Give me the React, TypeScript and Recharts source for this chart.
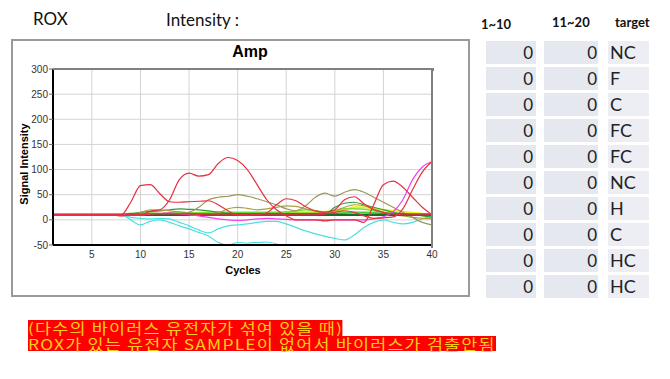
import React from 'react';
import { LineChart, Line, XAxis, YAxis, CartesianGrid } from 'recharts';

const CYCLES = [1, 2, 3, 4, 5, 6, 7, 8, 9, 10, 11, 12, 13, 14, 15, 16, 17, 18, 19, 20, 21, 22, 23, 24, 25, 26, 27, 28, 29, 30, 31, 32, 33, 34, 35, 36, 37, 38, 39, 40];
const X_TICKS = [5, 10, 15, 20, 25, 30, 35, 40];
const Y_TICKS = [-50, 0, 50, 100, 150, 200, 250, 300];

// one entry per well curve, values per cycle 1..40
const redA = [10, 10, 10, 10, 10, 10, 10, 10, 35, 68, 70, 52, 36, 35, 36, 37, 38, 30, 18, 10, 10, 10, 14, 30, 42, 38, 26, 18, 15, 20, 40, 46, 32, 20, 15, 12, 10, 10, 10, 10];
const redB = [10, 10, 10, 10, 10, 10, 10, 10, 10, 10, 17, 20, 40, 80, 93, 87, 90, 112, 124, 118, 100, 70, 40, 20, 8, 0, 0, 0, -2, 0, 0, 0, -5, 30, 70, 77, 65, 45, 25, 10];
const redC = [10, 10, 10, 10, 10, 10, 10, 8, 10, 10, 12, 12, 12, 12, 12, 11, 10, 10, 10, 10, 10, 10, 10, 10, 10, 10, 10, 10, 12, 15, 18, 15, 8, 3, 4, 6, 22, 60, 95, 116];
const magenta = [10, 10, 10, 10, 10, 10, 10, 10, 10, 10, 12, 13, 14, 12, 10, 8, 5, 2, 0, -1, 0, 2, 3, 2, 1, 0, 0, 0, 0, 0, 0, 0, 0, 2, 6, 16, 40, 80, 105, 116];
const oliveA = [10, 10, 10, 10, 10, 10, 10, 10, 10, 10, 10, 10, 10, 12, 15, 25, 40, 45, 47, 50, 47, 42, 36, 30, 22, 18, 28, 45, 53, 47, 55, 60, 55, 45, 35, 25, 15, 5, -5, -10];
const oliveB = [10, 10, 10, 10, 10, 10, 10, 10, 10, 15, 20, 20, 18, 16, 14, 12, 12, 14, 22, 25, 23, 20, 22, 25, 28, 27, 22, 18, 15, 18, 25, 30, 28, 22, 15, 10, 8, 5, 3, 2];
const cyanA = [10, 10, 10, 10, 10, 10, 10, 10, 0, -10, -3, 0, -5, -12, -18, -25, -32, -45, -50, -45, -46, -45, -44, -48, -56, -62, -66, -70, -72, -74, -75, -76, -76, -76, -76, -76, -76, -76, -76, -76];
const cyanB = [10, 10, 10, 10, 10, 10, 10, 10, 5, 3, 2, 3, 2, -5, -12, -20, -26, -18, -12, -10, -8, -5, -3, -3, -8, -15, -22, -28, -33, -37, -40, -30, -15, -5, 0, -5, -8, -5, 2, 8];
const green = [10, 10, 10, 10, 10, 10, 10, 10, 12, 15, 17, 18, 20, 22, 21, 20, 18, 15, 13, 12, 12, 12, 12, 12, 12, 12, 12, 12, 12, 25, 33, 35, 30, 25, 20, 15, 12, 10, 8, 5];
const lime = [10, 10, 10, 10, 10, 10, 10, 10, 13, 12, 14, 12, 14, 15, 14, 14, 15, 16, 15, 15, 15, 15, 15, 15, 16, 18, 20, 18, 16, 18, 22, 22, 21, 18, 15, 13, 12, 11, 10, 10];
const yellow = [10, 10, 10, 10, 10, 10, 10, 10, 10, 11, 12, 12, 13, 13, 12, 12, 12, 12, 13, 13, 13, 13, 13, 14, 14, 15, 15, 15, 16, 18, 20, 25, 25, 22, 20, 18, 16, 14, 12, 10];
const lightGreen = [10, 10, 10, 10, 10, 10, 10, 10, 11, 10, 9, 10, 12, 12, 12, 12, 12, 13, 13, 13, 13, 13, 13, 13, 13, 13, 13, 13, 13, 13, 14, 15, 15, 14, 13, 12, 12, 11, 11, 11];
const darkGreen = [10, 10, 10, 10, 10, 10, 10, 10, 10, 10, 10, 10, 10, 10, 10, 10, 10, 10, 10, 10, 10, 10, 10, 10, 10, 10, 10, 10, 10, 10, 10, 10, 10, 10, 10, 10, 10, 10, 10, 10];

const SERIES = [
  { key: 'cyanA', values: cyanA, color: '#4ee0e0', width: 1.2 },
  { key: 'cyanB', values: cyanB, color: '#4ee0e0', width: 1.2 },
  { key: 'yellow', values: yellow, color: '#f2ee10', width: 2 },
  { key: 'lime', values: lime, color: '#7ce030', width: 1.5 },
  { key: 'lightGreen', values: lightGreen, color: '#44cc44', width: 1.5 },
  { key: 'green', values: green, color: '#2e9e3a', width: 1.2 },
  { key: 'oliveB', values: oliveB, color: '#a8a040', width: 1.2 },
  { key: 'oliveA', values: oliveA, color: '#9c9858', width: 1.2 },
  { key: 'darkGreen', values: darkGreen, color: '#1d6a24', width: 2.5 },
  { key: 'magenta', values: magenta, color: '#ee44ee', width: 1.2 },
  { key: 'redC', values: redC, color: '#e83040', width: 1.2 },
  { key: 'redA', values: redA, color: '#e83040', width: 1.2 },
  { key: 'redB', values: redB, color: '#e83040', width: 1.2 },
];

const ROW_1_10 = [0, 0, 0, 0, 0, 0, 0, 0, 0, 0];
const ROW_11_20 = [0, 0, 0, 0, 0, 0, 0, 0, 0, 0];
const TARGETS = ['NC', 'F', 'C', 'FC', 'FC', 'NC', 'H', 'C', 'HC', 'HC'];
const NOTE_LINES = ['(다수의 바이러스 유전자가 섞여 있을 때)', 'ROX가 있는 유전자 SAMPLE이 없어서 바이러스가 검출안됨'];

const data = CYCLES.map((c, i) => {
  const row: Record<string, number> = { cycle: c };
  SERIES.forEach(s => { row[s.key] = s.values[i]; });
  return row;
});

const cellFont = 'Lato, "Noto Sans", sans-serif';
const axisFont = '"Liberation Sans", Arial, sans-serif';

export default function App() {
  return (
    <div style={{ position: 'absolute', left: 0, top: 0, width: 670, height: 379, background: '#fff', fontFamily: cellFont, overflow: 'hidden' }}>
      <div style={{ position: 'absolute', left: 33, top: 8, fontSize: 17, color: '#111' }}>ROX</div>
      <div style={{ position: 'absolute', left: 166, top: 9, fontSize: 17, color: '#111' }}>Intensity :</div>

      {/* chart frame */}
      <div style={{ position: 'absolute', left: 11, top: 39, width: 455, height: 254, border: '2px solid #9a9a9a', background: '#fff' }} />
      <div style={{ position: 'absolute', left: 150, top: 43, width: 200, textAlign: 'center', fontFamily: axisFont, fontWeight: 'bold', fontSize: 16, color: '#000' }}>Amp</div>
      <div style={{ position: 'absolute', left: 11, top: 40, width: 455, height: 254 }}>
        <LineChart width={455} height={254} data={data} margin={{ top: 29, right: 34, bottom: 19, left: 0 }}>
          <CartesianGrid stroke="#d4d4d4" strokeWidth={1} />
          <XAxis
            dataKey="cycle"
            type="number"
            domain={[1, 40]}
            ticks={X_TICKS}
            height={30}
            tickSize={0}
            tickMargin={6}
            axisLine={{ stroke: '#000', strokeWidth: 2 }}
            tick={{ fontSize: 10, fill: '#333', fontFamily: axisFont }}
          />
          <YAxis
            type="number"
            domain={[-50, 300]}
            ticks={Y_TICKS}
            allowDataOverflow
            width={42}
            tickSize={4}
            tickMargin={1}
            interval={0}
            axisLine={{ stroke: '#000', strokeWidth: 2 }}
            tickLine={{ stroke: '#666' }}
            tick={{ fontSize: 10, fill: '#333', fontFamily: axisFont }}
          />
          {SERIES.map(s => (
            <Line
              key={s.key}
              dataKey={s.key}
              type="monotone"
              stroke={s.color}
              strokeWidth={s.width}
              dot={false}
              isAnimationActive={false}
            />
          ))}
        </LineChart>
      </div>
      {/* top / right plot border */}
      <div style={{ position: 'absolute', left: 53, top: 68, width: 379, height: 1, borderTop: '2px solid #808080', borderRight: '2px solid #808080' }} />
      <div style={{ position: 'absolute', left: 431, top: 68, width: 2, height: 180, background: '#808080' }} />
      <div style={{ position: 'absolute', left: 193, top: 264, width: 100, textAlign: 'center', fontFamily: axisFont, fontWeight: 'bold', fontSize: 11, color: '#000' }}>Cycles</div>
      <div style={{ position: 'absolute', left: 24, top: 158, width: 120, marginLeft: -60, textAlign: 'center', transform: 'rotate(-90deg)', fontFamily: axisFont, fontWeight: 'bold', fontSize: 11, color: '#000' }}>Signal Intensity</div>

      {/* table */}
      <div style={{ position: 'absolute', left: 481, top: 16, fontSize: 13, fontWeight: 'bold', color: '#111' }}>1~10</div>
      <div style={{ position: 'absolute', left: 552, top: 14, fontSize: 13, fontWeight: 'bold', color: '#111' }}>11~20</div>
      <div style={{ position: 'absolute', left: 615, top: 14, fontSize: 13, fontWeight: 'bold', color: '#111' }}>target</div>
      {TARGETS.map((t, i) => (
        <React.Fragment key={i}>
          <div style={{ position: 'absolute', left: 486, top: 41 + i * 26, width: 50, height: 23, background: '#e6e8f0', textAlign: 'right', fontSize: 17, lineHeight: '23px', color: '#222', boxSizing: 'border-box', paddingRight: 3 }}>{ROW_1_10[i]}</div>
          <div style={{ position: 'absolute', left: 544, top: 41 + i * 26, width: 54, height: 23, background: '#e6e8f0', textAlign: 'right', fontSize: 17, lineHeight: '23px', color: '#222', boxSizing: 'border-box', paddingRight: 1 }}>{ROW_11_20[i]}</div>
          <div style={{ position: 'absolute', left: 608, top: 41 + i * 26, width: 41, height: 23, background: '#eceef4', fontSize: 18, lineHeight: '23px', color: '#222', boxSizing: 'border-box', paddingLeft: 2 }}>{t}</div>
        </React.Fragment>
      ))}

      {/* note */}
      {NOTE_LINES.map((line, i) => (
        <div key={i} style={{ position: 'absolute', left: 28, top: 320 + i * 15.5, height: 15.5, lineHeight: '15.5px', fontFamily: '"Noto Sans CJK KR", sans-serif', fontSize: 14.5, letterSpacing: 1, color: '#ffcc1a', background: '#ff0000', whiteSpace: 'nowrap', transform: 'scaleX(1.2)', transformOrigin: 'left center' }}>{line}</div>
      ))}
    </div>
  );
}
